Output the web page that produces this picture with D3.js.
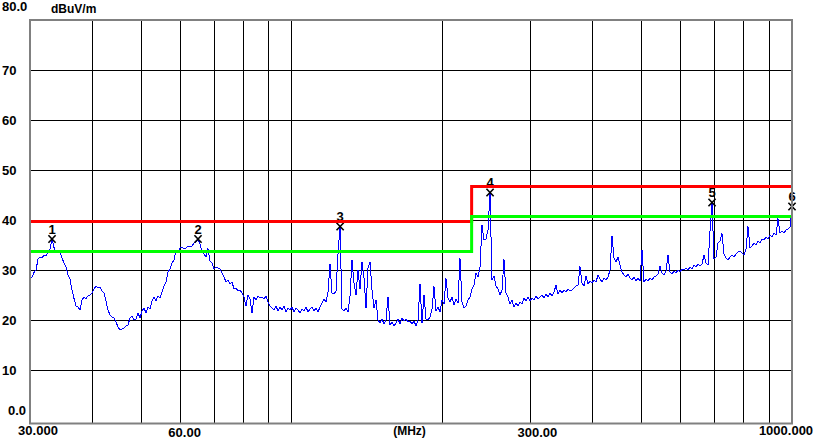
<!DOCTYPE html>
<html><head><meta charset="utf-8">
<script src="https://cdn.jsdelivr.net/npm/d3@7"></script>
<style>
body{margin:0;background:#fff;}
svg{display:block;font-family:"Liberation Sans",Arial,sans-serif;font-weight:bold;}
</style>
</head><body><svg id="c" width="822" height="444"></svg>
<script>
// ---------- data ----------
const startFreq = 30, stopFreq = 1000;           // MHz
const yTicks = [80, 70, 60, 50, 40, 30, 20, 10, 0];
const yTickLabels = ["80.0", "70", "60", "50", "40", "30", "20", "10", "0.0"];
const yGridLevels = [10, 20, 30, 40, 50, 60, 70];
const xGridFreqs = [40, 50, 60, 70, 80, 90, 100, 200, 300, 400, 500, 600, 700, 800, 900];
const xLabelFreqs = [30, 60, 172, 300, 1000];
const xLabels = ["30.000", "60.00", "(MHz)", "300.00", "1000.000"];
const unitLabel = "dBuV/m";

const limitRedFreqs = [30, 230, 230, 1000];
const limitRedLevels = [40, 40, 47, 47];
const limitGreenFreqs = [30, 230, 230, 1000];
const limitGreenLevels = [34, 34, 41, 41];

const markerIds = ["1", "2", "3", "4", "5", "6"];
const markerFreqs = [33.2, 65.0, 125.0, 249.2, 692.2, 1000];
const markerLevels = [36.2, 36.2, 38.7, 45.5, 43.5, 42.7];

// measured trace (dBuV/m), sweep points log-spaced from 30 to 1000 MHz
const traceLevels = [
28.3,28.6,29.5,30.0,32.2,32.6,32.4,33.0,32.9,33.6,
34.2,36.2,34.5,33.6,34.0,33.8,32.4,31.4,30.6,29.0,
28.2,26.0,24.3,22.8,22.6,22.0,24.0,24.6,24.3,24.8,
25.0,25.4,26.2,26.8,26.4,26.6,25.8,25.4,23.8,22.0,
21.0,20.6,20.4,19.6,18.6,18.0,18.2,18.4,18.8,19.0,
20.4,20.8,20.0,20.2,21.4,20.4,21.8,22.4,21.4,22.6,
22.2,23.8,24.6,23.9,24.8,24.4,25.6,26.8,27.6,29.6,
30.2,31.4,32.0,33.8,33.6,34.4,34.6,34.2,34.4,34.8,
34.6,34.8,35.4,35.6,36.2,35.2,33.6,33.2,32.6,34.3,
31.8,31.4,30.2,30.6,30.4,30.2,
29.4,28.6,27.6,28.0,27.2,27.6,26.2,26.4,25.8,26.0,
25.4,24.6,22.8,25.0,24.2,21.4,24.6,24.0,24.8,24.4,
24.6,24.2,24.8,23.6,22.8,22.4,22.0,22.8,21.8,22.6,
22.0,22.8,21.6,22.4,22.0,22.6,21.6,22.4,22.0,21.4,
22.2,21.8,22.6,21.6,22.2,22.6,21.8,22.4,21.6,22.6,
23.4,24.2,23.6,25.6,31.2,25.4,25.2,25.8,33.2,38.7,
22.2,21.8,22.4,21.6,24.8,32.0,27.4,25.0,30.0,26.2,
31.6,28.4,22.4,30.4,31.6,26.0,22.4,24.0,20.0,19.4,
20.2,19.2,20.0,24.6,19.0,19.6,18.8,19.4,20.2,19.2,
20.4,19.8,20.2,19.6,
19.8,19.2,19.8,18.8,20.0,27.2,19.4,25.0,20.2,20.0,
20.6,22.2,26.7,21.8,22.6,21.6,24.0,23.2,28.3,24.4,
23.6,24.6,23.0,24.2,23.4,32.3,23.6,22.4,22.8,24.0,
24.6,26.2,27.0,29.4,28.6,30.6,39.0,36.0,36.2,38.0,
45.5,28.0,28.8,26.8,26.2,25.0,26.0,32.1,25.4,24.6,
23.2,24.0,22.6,23.4,22.8,23.6,23.2,24.4,23.8,24.6,
23.8,24.4,24.0,24.8,24.2,24.6,25.0,24.4,25.2,24.6,
25.4,24.8,25.6,27.0,25.2,26.0,25.4,26.0,25.6,26.2,
25.8,26.0,26.4,26.8,27.0,30.7,27.4,26.8,28.8,27.2,
27.8,27.4,28.0,27.6,29.0,
28.2,27.6,28.4,28.0,28.6,30.0,36.8,32.4,31.6,32.6,
31.0,29.6,29.0,28.6,29.2,28.4,28.0,28.6,27.8,28.4,
27.8,34.0,27.6,28.2,27.8,28.4,28.0,28.6,28.8,29.2,
30.7,29.4,29.0,29.8,33.0,29.6,29.2,29.8,29.4,30.0,
29.6,30.2,30.0,30.4,30.0,30.6,30.2,31.0,30.6,31.2,
30.8,31.2,33.0,31.4,31.0,37.7,43.5,32.2,32.6,35.4,
35.8,37.3,33.2,32.4,32.0,32.6,33.0,32.6,33.2,33.6,
33.8,33.4,33.0,34.2,38.7,34.4,34.8,35.4,35.0,35.8,
35.4,36.2,36.0,36.6,36.2,37.0,36.6,37.4,37.0,40.3,
37.4,37.8,37.4,38.0,38.2,38.6,42.7
];

// ---------- chart ----------
const svg = d3.select("#c");
const x = d3.scaleLog().domain([startFreq, stopFreq]).range([30, 792]);
const y = d3.scaleLinear().domain([0, 80]).range([420, 20]);
const N = traceLevels.length;
const sweepFreqs = d3.range(N).map(i => startFreq * Math.pow(stopFreq / startFreq, i / (N - 1)));
const trace = sweepFreqs.map((f, i) => [f, traceLevels[i]]);

const plotTop = 20, plotBottom = 423.5;
const g = svg.append("g");

// grid
g.selectAll("line.hg").data(yGridLevels).enter().append("line")
  .attr("x1", 30).attr("x2", 792)
  .attr("y1", d => Math.floor(y(d)) + 0.5).attr("y2", d => Math.floor(y(d)) + 0.5)
  .attr("stroke", "#000").attr("stroke-width", 1);
g.selectAll("line.vg").data(xGridFreqs).enter().append("line")
  .attr("x1", d => Math.floor(x(d)) + 0.5).attr("x2", d => Math.floor(x(d)) + 0.5)
  .attr("y1", plotTop).attr("y2", plotBottom)
  .attr("stroke", "#000").attr("stroke-width", 1);

// trace
const line = d3.line().x(d => x(d[0])).y(d => y(d[1]));
g.append("path").datum(trace).attr("d", line)
  .attr("fill", "none").attr("stroke", "#0000ff").attr("stroke-width", 1)
  .attr("shape-rendering", "crispEdges");

// markers
const mk = g.selectAll("g.mk").data(markerIds).enter().append("g")
  .attr("transform", (d, i) => `translate(${x(markerFreqs[i])},${y(markerLevels[i])})`);
mk.append("path").attr("d", "M-3.6,-3.8L3.6,3.8M-3.6,3.8L3.6,-3.8")
  .attr("stroke", "#000").attr("stroke-width", 1.6).attr("fill", "none");
mk.append("text").text(d => d).attr("x", 0).attr("y", -5.5)
  .attr("text-anchor", "middle").attr("font-size", 13).attr("fill", "#000");

// limit lines
const lim = d3.line().x(d => x(d[0]) - 1).y(d => y(d[1]) + 1.5);
g.append("path").datum(limitRedFreqs.map((f, i) => [f, limitRedLevels[i]])).attr("d", lim)
  .attr("fill", "none").attr("stroke", "#ff0000").attr("stroke-width", 3);
g.append("path").datum(limitGreenFreqs.map((f, i) => [f, limitGreenLevels[i]])).attr("d", lim)
  .attr("fill", "none").attr("stroke", "#00ff00").attr("stroke-width", 3);

// frame
g.append("rect").attr("x", 30).attr("y", plotTop).attr("width", 762).attr("height", plotBottom - plotTop)
  .attr("fill", "none").attr("stroke", "#808080").attr("stroke-width", 2);

// y labels
g.selectAll("text.yl").data(yTicks).enter().append("text")
  .text((d, i) => yTickLabels[i])
  .attr("x", d => d === 0 ? 26 : 2)
  .attr("text-anchor", d => d === 0 ? "end" : "start")
  .attr("y", d => d === 80 ? y(d) - 9 : d === 0 ? y(d) - 5 : y(d) + 5)
  .attr("font-size", 13).attr("fill", "#000");

// unit
g.append("text").text(unitLabel).attr("x", 51).attr("y", 13)
  .attr("font-size", 12).attr("fill", "#000");

// x labels
const xOff = [8, 4, 0, 7, -6];
const xBase = [435, 437, 435, 437, 435];
g.selectAll("text.xl").data(xLabels).enter().append("text")
  .text(d => d)
  .attr("x", (d, i) => x(xLabelFreqs[i]) + xOff[i])
  .attr("y", (d, i) => xBase[i])
  .attr("text-anchor", "middle")
  .attr("font-size", (d, i) => i === 2 ? 12 : 13).attr("fill", "#000");
</script>
</body></html>
